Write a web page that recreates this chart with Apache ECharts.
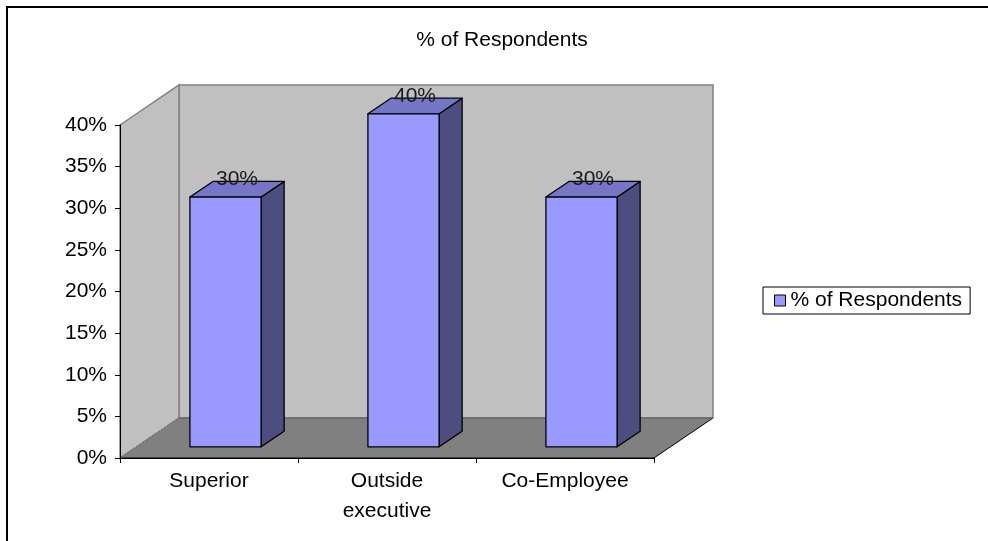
<!DOCTYPE html>
<html>
<head>
<meta charset="utf-8">
<script src="https://cdn.jsdelivr.net/npm/echarts/dist/echarts.min.js"></script>
<style>
html,body{margin:0;padding:0;background:#fff;}
#chart{width:988px;height:541px;}
</style>
</head>
<body>
<div id="chart"></div>
<script>
// ---- data ----
var categories = ['Superior', 'Outside\nexecutive', 'Co-Employee'];
var seriesName = '% of Respondents';
var values = [0.30, 0.40, 0.30];
var yTicks = { min: 0, max: 0.4, interval: 0.05 };
var titleText = '% of Respondents';

// ---- style / geometry constants ----
var DEPTH = [59, -40];       // 3D depth vector of the floor
var F1 = 0.28, F2 = 0.67;    // bar front/back depth fractions
var BAR_W = 0.4;             // bar width fraction of band
var FONT = 'Liberation Sans, Arial, sans-serif';
var FS = 21;

function pct(v) { return Math.round(v * 100) + '%'; }

var chart = echarts.init(document.getElementById('chart'), null, { renderer: 'canvas' });

var option = {
  animation: false,
  backgroundColor: '#ffffff',
  textStyle: { fontFamily: FONT },
  title: {
    text: titleText,
    left: 497,
    top: 25,
    textAlign: 'center',
    textStyle: { fontFamily: FONT, fontSize: FS, fontWeight: 'normal', color: '#000' }
  },
  legend: {
    left: 763,
    top: 287,
    orient: 'vertical',
    padding: [3, 8, 3, 11],
    borderColor: '#000',
    borderWidth: 1,
    itemWidth: 11,
    itemHeight: 11,
    itemGap: 0,
    icon: 'rect',
    textStyle: { fontFamily: FONT, fontSize: FS, color: '#000' },
    data: [{ name: seriesName, itemStyle: { color: '#9999ff', borderColor: '#000', borderWidth: 1 } }]
  },
  grid: { left: 120, right: 334, top: 125, bottom: 83, containLabel: false },
  xAxis: {
    type: 'category',
    data: categories,
    z: 10,
    axisLine: { show: true, lineStyle: { color: '#000', width: 1 } },
    axisTick: { show: true, length: 5, lineStyle: { color: '#000' } },
    axisLabel: { color: '#000', fontFamily: FONT, fontSize: FS, lineHeight: 30, margin: 8, interval: 0 },
    splitLine: { show: false }
  },
  yAxis: {
    type: 'value',
    min: yTicks.min,
    max: yTicks.max,
    interval: yTicks.interval,
    z: 10,
    axisLine: { show: true, lineStyle: { color: '#000', width: 1 } },
    axisTick: { show: true, length: 5, lineStyle: { color: '#000' } },
    axisLabel: { color: '#000', fontFamily: FONT, fontSize: FS, margin: 13, formatter: pct },
    splitLine: { show: false }
  },
  graphic: [{
    type: 'rect',
    shape: { x: 7, y: 7, width: 1100, height: 700 },
    style: { fill: 'none', stroke: '#000', lineWidth: 2 },
    silent: true,
    z: 100
  }],
  series: [
    {
      type: 'custom',
      name: 'walls',
      z: 1,
      silent: true,
      data: [[0, 0]],
      encode: { x: 0, y: 1 },
      renderItem: function (params, api) {
        var c = params.coordSys;
        var x = c.x, y = c.y, w = c.width, h = c.height;
        var dx = DEPTH[0], dy = DEPTH[1];
        return {
          type: 'group',
          children: [
            { type: 'polygon', shape: { points: [[x + dx, y + dy], [x + w + dx, y + dy], [x + w + dx, y + h + dy], [x + dx, y + h + dy]] },
              style: { fill: '#c0c0c0', stroke: '#808080', lineWidth: 1.5 } },
            { type: 'polygon', shape: { points: [[x, y], [x + dx, y + dy], [x + dx, y + h + dy], [x, y + h]] },
              style: { fill: '#c0c0c0', stroke: '#808080', lineWidth: 1.5 } },
            { type: 'polygon', shape: { points: [[x, y + h], [x + dx, y + h + dy], [x + w + dx, y + h + dy], [x + w, y + h]] },
              style: { fill: '#808080', stroke: '#000', lineWidth: 1 } },
            { type: 'line', shape: { x1: x + dx, y1: y + h + dy, x2: x + w + dx, y2: y + h + dy },
              style: { stroke: '#999999', lineWidth: 1 } },
            { type: 'line', shape: { x1: x, y1: y + h, x2: x + dx, y2: y + h + dy },
              style: { stroke: '#a0a0a0', lineWidth: 1 } }
          ]
        };
      }
    },
    {
      type: 'custom',
      name: seriesName,
      z: 2,
      itemStyle: { color: '#9999ff', borderColor: '#000', borderWidth: 1 },
      data: values.map(function (v, i) { return [i, v]; }),
      encode: { x: 0, y: 1 },
      renderItem: function (params, api) {
        var cat = api.value(0), val = api.value(1);
        var top = api.coord([cat, val]);
        var base = api.coord([cat, 0]);
        var band = api.size([1, 0])[0];
        var w = band * BAR_W;
        var x0 = top[0] - w / 2 + F1 * DEPTH[0];
        var x1 = x0 + w;
        var yt = top[1] + F1 * DEPTH[1];
        var yb = base[1] + F1 * DEPTH[1];
        var sx = (F2 - F1) * DEPTH[0], sy = (F2 - F1) * DEPTH[1];
        var stroke = { stroke: '#000', lineWidth: 1.3, lineJoin: 'round' };
        return {
          type: 'group',
          children: [
            { type: 'polygon', shape: { points: [[x1, yt], [x1 + sx, yt + sy], [x1 + sx, yb + sy], [x1, yb]] },
              style: Object.assign({ fill: '#4d4d80' }, stroke) },
            { type: 'polygon', shape: { points: [[x0, yt], [x1, yt], [x1 + sx, yt + sy], [x0 + sx, yt + sy]] },
              style: Object.assign({ fill: '#7676c6' }, stroke) },
            { type: 'polygon', shape: { points: [[x0, yt], [x1, yt], [x1, yb], [x0, yb]] },
              style: Object.assign({ fill: '#9999ff' }, stroke) },
            { type: 'text', x: (x0 + x1) / 2 + sx / 2, y: yt + sy - 2,
              style: { text: pct(val), fontFamily: FONT, fontSize: FS, fill: '#1a1a1a', align: 'center', verticalAlign: 'middle' } }
          ]
        };
      }
    }
  ]
};
chart.setOption(option);
</script>
</body>
</html>
